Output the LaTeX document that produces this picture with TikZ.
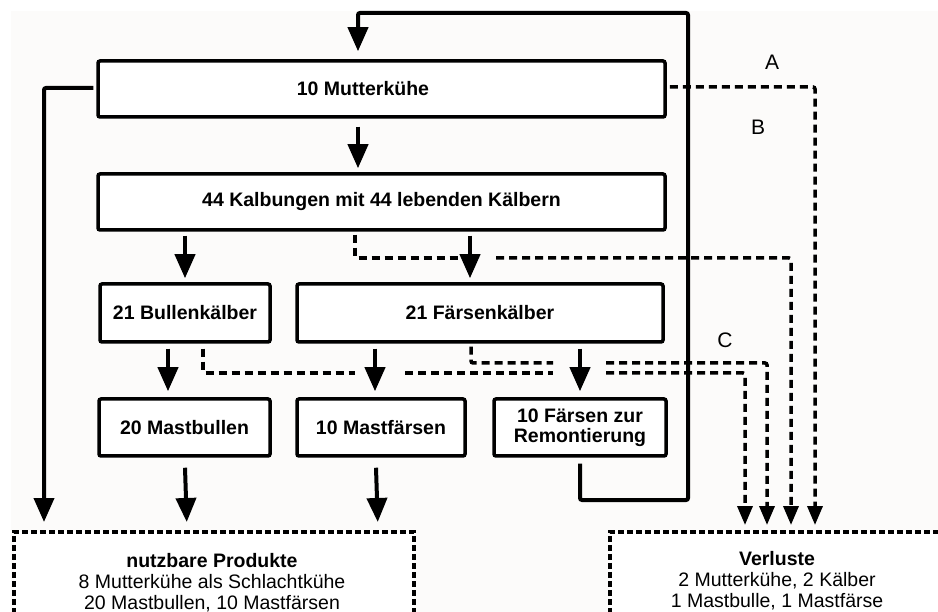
\documentclass[tikz,border=0pt]{standalone}
\usepackage{fontspec}
\setmainfont{Liberation Sans}
\usetikzlibrary{arrows.meta,calc}
\definecolor{bgc}{RGB}{252,251,250}
\begin{document}
\begin{tikzpicture}[x=1pt,y=-1pt,
  box/.style={draw, line width=3.5pt, rounded corners=2pt, fill=white, inner sep=0pt,
    font=\fontsize{19.5}{20}\selectfont\bfseries, align=center},
  lossbox/.style={draw, line width=3.5pt, dash pattern=on 6pt off 3pt, fill=white, inner sep=0pt,
    minimum width=400pt, minimum height=150pt, anchor=north west},
  btext/.style={font=\fontsize{19.5}{21}\selectfont, align=center, inner sep=0pt},
  lbl/.style={font=\fontsize{21}{21}\selectfont, inner sep=0pt},
  sol/.style={line width=4pt, rounded corners=2pt, -{Triangle[width=20pt,length=24pt]}},
  dl/.style={line width=3.5pt, dash pattern=on 8pt off 5pt, rounded corners=2pt},
  dsh/.style={dl, -{Triangle[width=15pt,length=19pt]}}
]
\clip (0,0) rectangle (938,612);
\fill[white] (0,0) rectangle (938,612);
\fill[bgc] (11,11) rectangle (938,612);

% boxes
\node[box, minimum width=567pt, minimum height=56pt] (mk) at (381.5,89) {\hspace*{-37pt}10 Mutterkühe};
\node[box, minimum width=567pt, minimum height=56pt] (kb) at (381.5,202) {44 Kalbungen mit 44 lebenden Kälbern};
\node[box, minimum width=170pt, minimum height=58pt] (bk) at (185,313) {21 Bullenkälber};
\node[box, minimum width=366pt, minimum height=58pt] (fk) at (480,313) {21 Färsenkälber};
\node[box, minimum width=171pt, minimum height=57pt] (mb) at (184.5,427.5) {20 Mastbullen};
\node[box, minimum width=168pt, minimum height=57pt] (mf) at (381,427.5) {10 Mastfärsen};
\node[box, minimum width=172pt, minimum height=57pt] (rem) at (580,427.5) {10 Färsen zur\\Remontierung};

\node[lossbox] (npbox) at (12,530) {};
\node[lossbox] (vlbox) at (608,530) {};
\node[btext, anchor=base] (np) at (212,609) {\textbf{nutzbare Produkte}\\8 Mutterkühe als Schlachtkühe\\20 Mastbullen, 10 Mastfärsen};
\node[btext, anchor=base] (vl) at (777,607) {\textbf{Verluste}\\2 Mutterkühe, 2 Kälber\\1 Mastbulle, 1 Mastfärse};

% labels
\node[lbl] (la) at (772,62) {A};
\node[lbl] (lb) at (758,127) {B};
\node[lbl] (lc) at (725,340) {C};

% coordinates for dashed routes
\coordinate (bg1) at (462,258);
\coordinate (bg2) at (496,258);
\coordinate (c1a) at (355,373);
\coordinate (c1b) at (405,373);
\coordinate (c1c) at (553,373);
\coordinate (c1d) at (606,373);
\coordinate (c2a) at (553,363);
\coordinate (c2b) at (606,363);
\coordinate (lpA) at (688,500);
\coordinate (lpB) at (688,13);

% dashed loss connectors
\draw[dsh] ($(mk.east)+(3,-2)$) -| ($(vlbox.north west)+(207,-5)$);
\draw[dl] ($(kb.south)+(-26.5,3)$) |- (bg1);
\draw[dsh] (bg2) -| ($(vlbox.north west)+(183,-5)$);
\draw[dl] ($(bk.south)+(18,5)$) |- (c1a);
\draw[dl] (c1b) -- (c1c);
\draw[dsh] (c1d) -| ($(vlbox.north west)+(137,-5)$);
\draw[dl] ($(fk.south)+(-9,3)$) |- (c2a);
\draw[dsh] (c2b) -| ($(vlbox.north west)+(159,-5)$);

% solid connectors
\draw[sol] ($(rem.south)+(0,6)$) |- (lpA) -- (lpB) -| ($(mk.north)+(-23.5,-8)$);
\draw[sol] ($(mk.south)+(-23.5,8)$) -- ($(kb.north)+(-23.5,-4)$);
\draw[sol] ($(kb.south -| bk.north)+(0,4)$) -- ($(bk.north)+(0,-4)$);
\draw[sol] ($(kb.south)+(88.5,4)$) -- ($(fk.north)+(-10,-4)$);
\draw[sol] ($(bk.south)+(-17,5)$) -- ($(mb.north)+(-16.5,-6)$);
\draw[sol] ($(fk.south)+(-105,5)$) -- ($(mf.north)+(-6,-6)$);
\draw[sol] ($(fk.south)+(100,5)$) -- ($(rem.north)+(0,-6)$);
\draw[sol] ($(mb.south)+(0.5,10)$) -- ($(npbox.north)+(-27,-8)$);
\draw[sol] ($(mf.south)+(-5,10)$) -- ($(npbox.north)+(164,-8)$);
\draw[sol] ($(mk.west)+(-3,-1)$) -| ($(npbox.north west)+(32,-8)$);
\end{tikzpicture}
\end{document}
